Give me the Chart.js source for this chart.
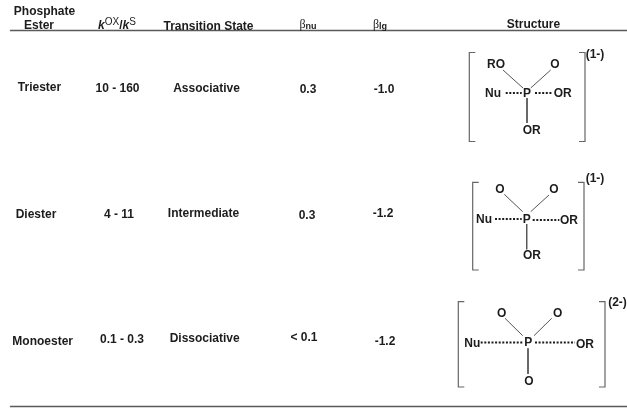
<!DOCTYPE html>
<html lang="en">
<head>
    <meta charset="UTF-8">
    <title>Phosphate Ester Transition States</title>
    <style>
        html, body { margin: 0; padding: 0; background: #ffffff; }
        #chart { display: block; }
    </style>
</head>
<body>
    <canvas id="chart" width="627" height="409"></canvas>
    <script src="https://cdn.jsdelivr.net/npm/chart.js"></script>
    <script>
        // table values
        var esters = ['Triester', 'Diester', 'Monoester'];
        var kRatios = ['10 - 160', '4 - 11', '0.1 - 0.3'];
        var states = ['Associative', 'Intermediate', 'Dissociative'];
        var betaNu = ['0.3', '0.3', '< 0.1'];
        var betaLg = ['-1.0', '-1.2', '-1.2'];

        // structure labels
        var charges = ['(1-)', '(1-)', '(2-)'];
        var leftTop = ['RO', 'O', 'O'];
        var rightTop = ['O', 'O', 'O'];
        var rightGroup = ['OR', 'OR', 'OR'];
        var bottomGroup = ['OR', 'OR', 'O'];

        // layout, in the same units as the axes
        var esterPos = [[39.5, 87], [36, 214], [42.7, 341]];
        var kPos = [[117.5, 88], [119, 214], [122, 339]];
        var statePos = [[206.5, 88], [203.5, 213], [204.7, 338]];
        var nuPos = [[308, 89], [307, 215], [304, 337]];
        var lgPos = [[384, 89], [383, 213], [385, 341]];

        var chargePos = [[595, 54], [595, 178], [617.5, 302]];
        var leftTopPos = [[496, 64], [500, 189], [501.7, 313]];
        var rightTopPos = [[555, 64], [554, 189], [557.7, 313]];
        var nuGroupPos = [[493, 93], [484, 219], [472.3, 342.5]];
        var phosphorusPos = [[527, 93], [526.7, 219], [528.3, 342]];
        var rightGroupPos = [[562.7, 93], [569, 220], [585, 343.5]];
        var bottomGroupPos = [[531.7, 130], [532, 255], [529, 381]];

        var bracketLeft = [469.3, 472.7, 458.3];
        var bracketRight = [585, 584, 605];
        var bracketTop = [52.5, 182.3, 301.7];
        var bracketBottom = [141.5, 270, 387];
        var bracketSerif = 6;

        var leftBonds = [[503, 70, 523, 88], [504.3, 194.3, 522.7, 211.7], [505, 318.3, 522.7, 335.7]];
        var rightBonds = [[550.7, 70, 530.7, 88], [549, 195, 530.7, 211.7], [551.7, 318.3, 534, 335.7]];
        var downBonds = [[527, 98, 527, 123], [526.7, 224, 526.7, 249.3], [528, 348.3, 528, 374]];
        var nuDots = [[505.7, 93, 521.7, 93], [495, 219, 521.7, 219], [480.7, 342.5, 522.3, 342.5]];
        var orDots = [[535, 93, 553, 93], [532.7, 220, 559.3, 220], [535, 342.5, 575, 342.5]];

        var rules = [[10, 30.5, 627, 30.5], [10, 406.5, 627, 406.5]];

        var inkColor = '#1c1c1c';
        var lineColor = '#555555';
        var fontName = '"Liberation Sans", Arial, sans-serif';

        function segment(s, color, width, dash) {
            return {
                data: [{ x: s[0], y: s[1] }, { x: s[2], y: s[3] }],
                showLine: true,
                borderColor: color,
                borderWidth: width,
                borderDash: dash || [],
                pointRadius: 0
            };
        }

        var datasets = [];
        rules.forEach(function (r) { datasets.push(segment(r, '#5a5a5a', 1.4)); });

        esters.forEach(function (e, i) {
            datasets.push(segment(leftBonds[i], lineColor, 1));
            datasets.push(segment(rightBonds[i], lineColor, 1));
            datasets.push(segment(downBonds[i], lineColor, 1));
            datasets.push(segment(nuDots[i], inkColor, 2, [2, 1.6]));
            datasets.push(segment(orDots[i], inkColor, 2, [2, 1.6]));

            // square brackets are one polyline each
            [[bracketLeft[i], bracketSerif], [bracketRight[i], -bracketSerif]].forEach(function (b) {
                datasets.push({
                    data: [
                        { x: b[0] + b[1], y: bracketTop[i] },
                        { x: b[0], y: bracketTop[i] },
                        { x: b[0], y: bracketBottom[i] },
                        { x: b[0] + b[1], y: bracketBottom[i] }
                    ],
                    showLine: true,
                    borderColor: '#666666',
                    borderWidth: 1.2,
                    pointRadius: 0
                });
            });
        });

        // draws runs of text centred on an axis position
        function drawRuns(chart, pos, runs) {
            var ctx = chart.ctx;
            var x = chart.scales.x.getPixelForValue(pos[0]);
            var y = chart.scales.y.getPixelForValue(pos[1]) + 1; // middle baseline sits a bit high
            var total = 0;
            runs.forEach(function (r) {
                ctx.font = r.font;
                total += ctx.measureText(r.text).width;
            });
            var cursor = x - total / 2;
            runs.forEach(function (r) {
                ctx.font = r.font;
                ctx.fillText(r.text, cursor, y + (r.dy || 0));
                cursor += ctx.measureText(r.text).width;
            });
        }

        function bold(size) { return 'bold ' + size + 'px ' + fontName; }

        var textPlugin = {
            id: 'tableText',
            afterDatasetsDraw: function (chart) {
                var ctx = chart.ctx;
                ctx.save();
                ctx.fillStyle = inkColor;
                ctx.textBaseline = 'middle';
                ctx.textAlign = 'left';

                function label(pos, text, size) {
                    drawRuns(chart, pos, [{ text: text, font: bold(size || 12) }]);
                }

                label([44.5, 10.5], 'Phosphate');
                label([39, 25], 'Ester');
                drawRuns(chart, [117, 25], [
                    { text: 'k', font: 'italic ' + bold(12) },
                    { text: 'OX', font: '10px ' + fontName, dy: -4 },
                    { text: '/', font: bold(12) },
                    { text: 'k', font: 'italic ' + bold(12) },
                    { text: 'S', font: '10px ' + fontName, dy: -4 }
                ]);
                label([208.5, 25.5], 'Transition State');
                drawRuns(chart, [308, 24], [
                    { text: '\u03B2', font: '12px "Liberation Serif", serif' },
                    { text: 'nu', font: bold(9), dy: 2 }
                ]);
                drawRuns(chart, [380, 24], [
                    { text: '\u03B2', font: '12px "Liberation Serif", serif' },
                    { text: 'lg', font: bold(9), dy: 2 }
                ]);
                label([533.5, 24], 'Structure');

                esters.forEach(function (e, i) {
                    label(esterPos[i], e);
                    label(kPos[i], kRatios[i]);
                    label(statePos[i], states[i]);
                    label(nuPos[i], betaNu[i]);
                    label(lgPos[i], betaLg[i]);

                    label(chargePos[i], charges[i]);
                    label(leftTopPos[i], leftTop[i]);
                    label(rightTopPos[i], rightTop[i]);
                    label(nuGroupPos[i], 'Nu');
                    label(phosphorusPos[i], 'P');
                    label(rightGroupPos[i], rightGroup[i]);
                    label(bottomGroupPos[i], bottomGroup[i]);
                });
                ctx.restore();
            }
        };

        new Chart(document.getElementById('chart').getContext('2d'), {
            type: 'scatter',
            data: { datasets: datasets },
            plugins: [textPlugin],
            options: {
                responsive: false,
                animation: false,
                layout: { padding: 0 },
                plugins: {
                    legend: { display: false },
                    tooltip: { enabled: false }
                },
                scales: {
                    x: { type: 'linear', display: false, min: 0, max: 627 },
                    y: { type: 'linear', display: false, min: 0, max: 409, reverse: true }
                }
            }
        });
    </script>
</body>
</html>
